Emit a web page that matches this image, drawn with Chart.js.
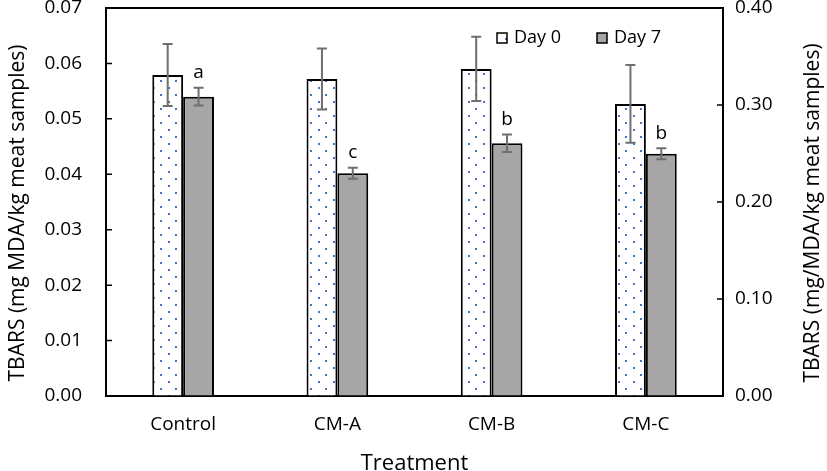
<!DOCTYPE html>
<html><head><meta charset="utf-8">
<script src="https://cdn.jsdelivr.net/npm/chart.js@4"></script>
<style>html,body{margin:0;padding:0;background:#fff;} canvas{display:block;}</style>
</head><body>
<canvas id="c" width="827" height="471"></canvas>
<script>
const categories = ['Control', 'CM-A', 'CM-B', 'CM-C'];
const seriesNames = ['Day 0', 'Day 7'];
const day0Mean = [0.0579, 0.0572, 0.0590, 0.0527];
const day0Err  = [0.0056, 0.0055, 0.0058, 0.0070];
const day7Mean = [0.0540, 0.0402, 0.0456, 0.0437];
const day7Err  = [0.0016, 0.0010, 0.0016, 0.0010];
const day7Letters = ['a', 'c', 'b', 'b'];
const leftTicks = [0, 0.01, 0.02, 0.03, 0.04, 0.05, 0.06, 0.07];
const rightTicks = [0, 0.1, 0.2, 0.3, 0.4];
const leftTitle = 'TBARS (mg MDA/kg meat samples)';
const rightTitle = 'TBARS (mg/MDA/kg meat samples)';
const xTitle = 'Treatment';

const FONT = "'Open Sans', sans-serif";

function dotPattern() {
  const c = document.createElement('canvas');
  c.width = 15; c.height = 14;
  const g = c.getContext('2d');
  g.fillStyle = '#ffffff'; g.fillRect(0, 0, 15, 14);
  g.fillStyle = '#4472c4';
  g.fillRect(3, 3, 2, 2);
  g.fillRect(10, 10, 2, 2);
  return g.createPattern(c, 'repeat');
}
const pattern = dotPattern();

const overlay = {
  id: 'overlay',
  afterDatasetsDraw(chart) {
    const { ctx, chartArea: a, scales } = chart;
    const y = scales.y, y1 = scales.y1;
    ctx.save();
    // top frame line
    ctx.strokeStyle = '#000'; ctx.lineWidth = 2;
    ctx.beginPath(); ctx.moveTo(a.left - 1, a.top); ctx.lineTo(a.right + 1, a.top); ctx.stroke();
    // inward tick marks
    ctx.lineWidth = 1.5;
    ctx.beginPath();
    y.ticks.forEach(t => { const p = y.getPixelForValue(t.value); ctx.moveTo(a.left, p); ctx.lineTo(a.left + 6, p); });
    y1.ticks.forEach(t => { const p = y1.getPixelForValue(t.value); ctx.moveTo(a.right, p); ctx.lineTo(a.right - 6, p); });
    ctx.stroke();
    // error bars
    const errs = [day0Err, day7Err];
    ctx.strokeStyle = '#6f6f6f'; ctx.lineWidth = 2;
    chart.data.datasets.forEach((ds, di) => {
      chart.getDatasetMeta(di).data.forEach((bar, i) => {
        const v = ds.data[i], e = errs[di][i];
        const yt = y.getPixelForValue(v + e), yb = y.getPixelForValue(v - e);
        const x = bar.x, h = 5;
        ctx.beginPath();
        ctx.moveTo(x, yt); ctx.lineTo(x, yb);
        ctx.moveTo(x - h, yt); ctx.lineTo(x + h, yt);
        ctx.moveTo(x - h, yb); ctx.lineTo(x + h, yb);
        ctx.stroke();
      });
    });
    // significance letters
    ctx.fillStyle = '#000';
    ctx.font = '19px ' + FONT;
    ctx.textAlign = 'center'; ctx.textBaseline = 'middle';
    chart.getDatasetMeta(1).data.forEach((bar, i) => {
      const yt = y.getPixelForValue(day7Mean[i] + day7Err[i]);
      ctx.fillText(day7Letters[i], bar.x, yt - 15);
    });
    // legend
    ctx.font = '18px ' + FONT;
    ctx.textAlign = 'left';
    const legX = [a.left + 391, a.left + 491];
    const legY = a.top + 30;
    chart.data.datasets.forEach((ds, di) => {
      ctx.fillStyle = ds.backgroundColor;
      ctx.fillRect(legX[di], legY - 5, 10, 10);
      ctx.strokeStyle = '#000'; ctx.lineWidth = 1.5;
      ctx.strokeRect(legX[di], legY - 5, 10, 10);
      ctx.fillStyle = '#000';
      ctx.fillText(ds.label, legX[di] + 17, legY);
    });
    // y titles (both read bottom to top)
    ctx.font = '21px ' + FONT;
    ctx.textAlign = 'center'; ctx.textBaseline = 'middle';
    const cy = (a.top + a.bottom) / 2 + 11;
    ctx.save(); ctx.translate(18, cy); ctx.rotate(-Math.PI / 2); ctx.fillText(leftTitle, 0, 0); ctx.restore();
    ctx.save(); ctx.translate(813, cy); ctx.rotate(-Math.PI / 2); ctx.fillText(rightTitle, 0, 0); ctx.restore();
    ctx.restore();
  }
};

const axisBorder = { display: true, color: '#000', width: 2 };
const hiddenTicks = (len) => ({ display: true, drawOnChartArea: false, drawTicks: true, tickLength: len, tickColor: 'rgba(0,0,0,0)', color: 'rgba(0,0,0,0)' });

new Chart(document.getElementById('c'), {
  type: 'bar',
  data: {
    labels: categories,
    datasets: [
      { label: seriesNames[0], data: day0Mean, backgroundColor: pattern, borderColor: '#000', borderWidth: 2,
        categoryPercentage: 0.4, barPercentage: 1.0, yAxisID: 'y' },
      { label: seriesNames[1], data: day7Mean, backgroundColor: '#a6a6a6', borderColor: '#000', borderWidth: 2,
        categoryPercentage: 0.4, barPercentage: 1.0, yAxisID: 'y' }
    ]
  },
  options: {
    responsive: false, animation: false, devicePixelRatio: 1,
    layout: { padding: { top: 8, left: 0, right: 0, bottom: 0 } },
    plugins: { legend: { display: false }, tooltip: { enabled: false } },
    scales: {
      x: {
        grid: { display: false, drawTicks: false }, border: axisBorder,
        ticks: { font: { family: FONT, size: 19 }, color: '#000', padding: 17 },
        title: { display: true, text: xTitle, color: '#000', font: { family: FONT, size: 22, lineHeight: 1.2 }, padding: { top: 0, bottom: -6 } },
        afterFit(s) { s.height = 75; }
      },
      y: {
        position: 'left', min: 0, max: 0.07,
        grid: hiddenTicks(24), border: axisBorder,
        ticks: { font: { family: FONT, size: 19, lineHeight: 0.8 }, color: '#000', padding: 0, callback: v => v.toFixed(2) },
        afterBuildTicks(s) { s.ticks = leftTicks.map(v => ({ value: v })); },
        afterFit(s) { s.width = 106; }
      },
      y1: {
        position: 'right', min: 0, max: 0.4,
        grid: hiddenTicks(12), border: axisBorder,
        ticks: { font: { family: FONT, size: 19, lineHeight: 0.8 }, color: '#000', padding: 0, callback: v => v.toFixed(2) },
        afterBuildTicks(s) { s.ticks = rightTicks.map(v => ({ value: v })); },
        afterFit(s) { s.width = 104; }
      }
    }
  },
  plugins: [overlay]
});
</script>
</body></html>
